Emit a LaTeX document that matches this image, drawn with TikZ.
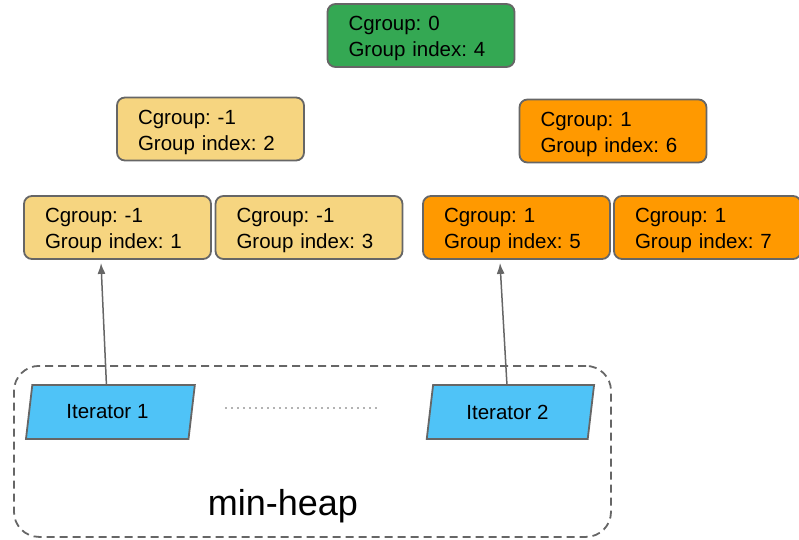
\documentclass[tikz,border=0pt]{standalone}
\usepackage{fontspec}
\setmainfont{Liberation Sans}
\usetikzlibrary{shapes.geometric,arrows.meta}
\definecolor{rootgreen}{HTML}{34A853}
\definecolor{lowyellow}{HTML}{F6D580}
\definecolor{highorange}{HTML}{FF9900}
\definecolor{iterblue}{HTML}{4FC3F7}
\def\boxtext{\fontsize{20.5}{26}\selectfont}
\frenchspacing

\begin{document}
\begin{tikzpicture}[x=1pt,y=-1pt,line width=1.8pt,draw=black!60]
    \tikzstyle{group}=[draw,rounded corners=8pt,text width=145pt,inner xsep=21pt,inner ysep=0pt,minimum height=63pt,align=left,font=\boxtext,execute at begin node={\rule{0pt}{21pt}}]
    \tikzstyle{iterator}=[draw,fill=iterblue,trapezium,trapezium left angle=76,trapezium right angle=104,trapezium stretches=true,minimum width=169pt,minimum height=54pt,inner sep=0pt,font=\boxtext]
    \tikzstyle{link}=[-{Latex[length=11pt,width=8pt]},line width=1.5pt]
    \tikzstyle{heap}=[draw,dash pattern=on 8pt off 5pt,rounded corners=25pt,minimum width=597pt,minimum height=171pt]
    \useasboundingbox (0,0) rectangle (799,539);

    % Root of the group tree
    \node[group,fill=rootgreen] (G-4) at (421,35.5) {Cgroup: 0\\Group index: 4};

    % Middle level
    \node[group,fill=lowyellow] (G-2) at (210.5,129) {Cgroup: -1\\Group index: 2};
    \node[group,fill=highorange] (G-6) at (613,131) {Cgroup: 1\\Group index: 6};

    % Leaves
    \foreach \name / \x / \cg / \col in {1/117.5/-1/lowyellow, 3/309/-1/lowyellow, 5/516.5/1/highorange, 7/707.5/1/highorange}
        \node[group,fill=\col] (G-\name) at (\x,227.5) {Cgroup: \cg\\Group index: \name};

    % The heap and its iterators
    \node[heap] (heap) at (312.5,451.4) {};
    \node[iterator] (I-1) at (110.4,412) {Iterator 1\hspace*{6pt}};
    \node[iterator] (I-2) at (510.4,412) {Iterator 2\hspace*{6pt}};
    \node[font=\fontsize{36}{40}\selectfont,anchor=base] (heap-label) at (283,515) {min-heap};

    \coordinate (dots-a) at (226,408);
    \coordinate (dots-b) at (380,408);
    \draw[line width=1.6pt,line cap=round,dash pattern=on 0pt off 6pt] (dots-a) -- (dots-b);

    % Each iterator points at its current group
    \draw[link] ([xshift=-4pt]I-1.north) -- ([xshift=-16.5pt,yshift=-3pt]G-1.south);
    \draw[link] ([xshift=-3.5pt]I-2.north) -- ([xshift=-16.5pt,yshift=-3pt]G-5.south);
\end{tikzpicture}
\end{document}
